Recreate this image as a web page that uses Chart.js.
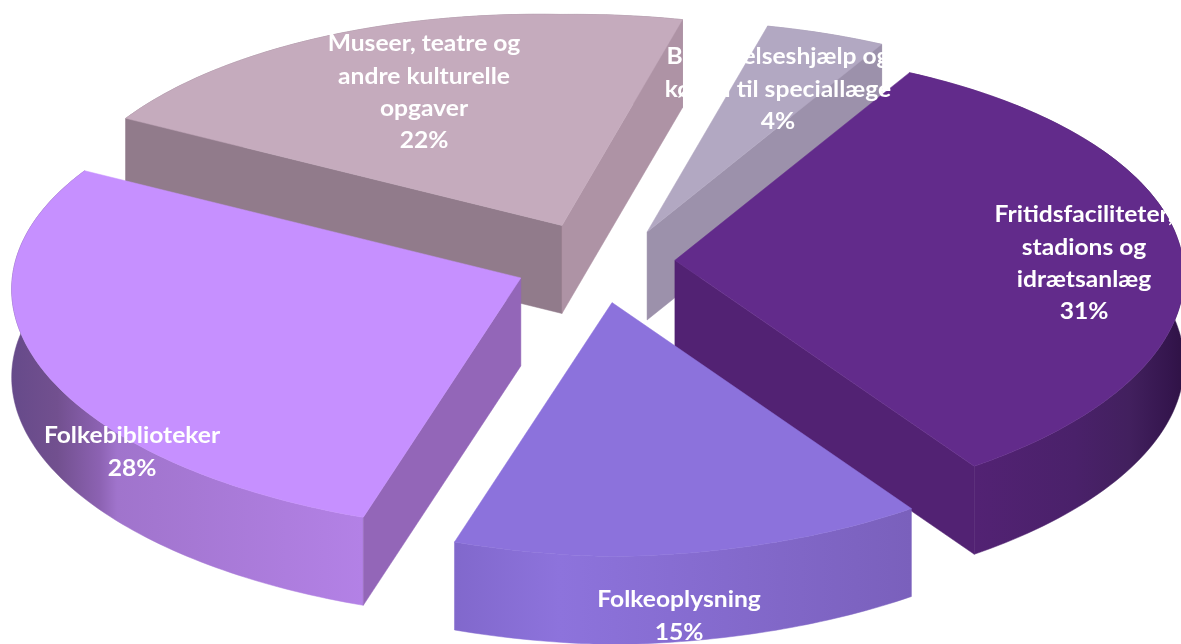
<!DOCTYPE html>
<html lang="da">
<head>
<meta charset="utf-8">
<title>Kultur</title>
<style>html,body{margin:0;padding:0;background:#fff}canvas{display:block}</style>
<script src="https://cdn.jsdelivr.net/npm/chart.js@4"></script>
</head>
<body>
<canvas id="c" width="1181" height="644"></canvas>
<script>
const categories = ["Fritidsfaciliteter, stadions og idrætsanlæg","Folkeoplysning","Folkebiblioteker","Museer, teatre og andre kulturelle opgaver","Begravelseshjælp og kørsel til speciallæge"];
const values = [31,15,28,22,4];
const labelLines = [["Fritidsfaciliteter,","stadions og","idrætsanlæg"],["Folkeoplysning"],["Folkebiblioteker"],["Museer, teatre og","andre kulturelle","opgaver"],["Begravelseshjælp og","kørsel til speciallæge"]];
const topColors = ["#622B8B","#8C72DC","#C690FF","#C5ABBD","#B2A8C2"];
const faceColors = ["#522273","#8168CC","#9366B8","#917B8B","#9C91AB"];
const faceColors2 = ["#522273","#8168CC","#9366B8","#AE93A5","#9C91AB"];

// presentation settings
const paintOrder = [4,3,0,2,1];
const explode = [0.159,0.175,0.159,0.175,0.17];
const explodeTurn = [0,0,0,2.5,14.8];
const labelAnchor = [[1084,215],[679,600],[132,436],[424,44],[778,57]];
const wallStops = [
  [[0,"#522273"],[0.25,"#522273"],[0.6,"#4A216A"],[0.8,"#42205E"],[0.95,"#34154D"],[1,"#2F1245"]],
  [[0,"#8168CC"],[0.23,"#8D73DC"],[1,"#7A60BC"]],
  [[0,"#664A8A"],[0.13,"#72508F"],[0.25,"#8C62B2"],[0.3,"#A074CC"],[1,"#B381E6"]],
  [[0,"#917B8B"],[1,"#917B8B"]],
  [[0,"#9C91AB"],[1,"#9C91AB"]]
];
const P = {cx:594.5, cy:263, s:507, a:230.5, p:0.0925, shearL:0.02, shearR:-0.012, depth:88};
const warpBumps = [[141.6,25,5.4],[195.6,15,0.8],[15.6,8,-0.6]];

const rad = Math.PI/180;
function warp(t){ // t in radians from 12 o'clock: fits the reference's projection
  let d = t/rad; d = ((d%360)+360)%360;
  let off = 0;
  warpBumps.forEach(b=>{ off += b[2]*Math.exp(-Math.pow((d-b[0])/b[1],2)); });
  return t + off*rad;
}
function rimPoint(t){
  const x=Math.sin(t), y=-Math.cos(t), w=1-P.p*y;
  const X=P.s*x/w;
  return [X, P.a*y/w + (X<0?P.shearL:P.shearR)*X];
}
function polygon(ctx,pts,fill){
  ctx.beginPath();
  pts.forEach((q,i)=> i?ctx.lineTo(q[0],q[1]):ctx.moveTo(q[0],q[1]));
  ctx.closePath();
  ctx.fillStyle=fill; ctx.fill();
  ctx.strokeStyle=fill; ctx.lineWidth=0.5; ctx.stroke();
}
const pie3d = {
  id:'pie3d',
  beforeDatasetsDraw(chart){
    const ctx=chart.ctx, arcs=chart.getDatasetMeta(0).data;
    ctx.save();
    paintOrder.forEach(i=>{
      const arc=arcs[i];
      const t0=arc.startAngle+Math.PI/2, t1=arc.endAngle+Math.PI/2;
      const m=(t0+t1)/2+explodeTurn[i]*rad;
      const ax=P.cx+explode[i]*P.s*Math.sin(m), ay=P.cy-explode[i]*P.a*Math.cos(m);
      const rim=[]; const n=Math.max(8,Math.ceil((t1-t0)/(1*rad)));
      for(let k=0;k<=n;k++){
        const q=rimPoint(warp(t0+(t1-t0)*k/n));
        rim.push([ax+q[0],ay+q[1]]);
      }
      const down=q=>[q[0],q[1]+P.depth];
      // curved wall
      const xs=rim.map(q=>q[0]), xMin=Math.min(...xs), xMax=Math.max(...xs);
      const g=ctx.createLinearGradient(xMin,0,xMax,0);
      wallStops[i].forEach(st=>g.addColorStop(st[0],st[1]));
      polygon(ctx,rim.concat(rim.map(down).reverse()),g);
      // cut faces that turn towards the viewer
      const interior=rim[Math.floor(n/2)];
      [[rim[0],faceColors[i]],[rim[n],faceColors2[i]]].forEach(([e,col])=>{
        let nx=-(e[1]-ay), ny=e[0]-ax;
        if(nx*(interior[0]-ax)+ny*(interior[1]-ay)>0){nx=-nx;ny=-ny;}
        if(ny>0) polygon(ctx,[[ax,ay],e,down(e),[ax,ay+P.depth]],col);
      });
      // top surface
      polygon(ctx,[[ax,ay]].concat(rim),topColors[i]);
    });
    ctx.restore();
    return false;
  },
  afterDraw(chart){
    const ctx=chart.ctx;
    ctx.save();
    ctx.font='bold 23px Lato';
    ctx.fillStyle='#fff';
    ctx.textAlign='center';
    ctx.textBaseline='middle';
    paintOrder.forEach(i=>{
      const lines=labelLines[i].concat([values[i]+'%']);
      lines.forEach((s,k)=>{
        ctx.save();
        ctx.translate(labelAnchor[i][0],labelAnchor[i][1]+k*32.2);
        ctx.scale(1.07,1);
        ctx.fillText(s,0,0);
        ctx.restore();
      });
    });
    ctx.restore();
  }
};
new Chart(document.getElementById('c'),{
  type:'pie',
  data:{labels:categories,datasets:[{data:values,backgroundColor:topColors,borderWidth:0}]},
  options:{
    responsive:false,animation:false,rotation:30,
    layout:{padding:0},
    plugins:{legend:{display:false},tooltip:{enabled:false},title:{display:false}}
  },
  plugins:[pie3d]
});
</script>
</body>
</html>
